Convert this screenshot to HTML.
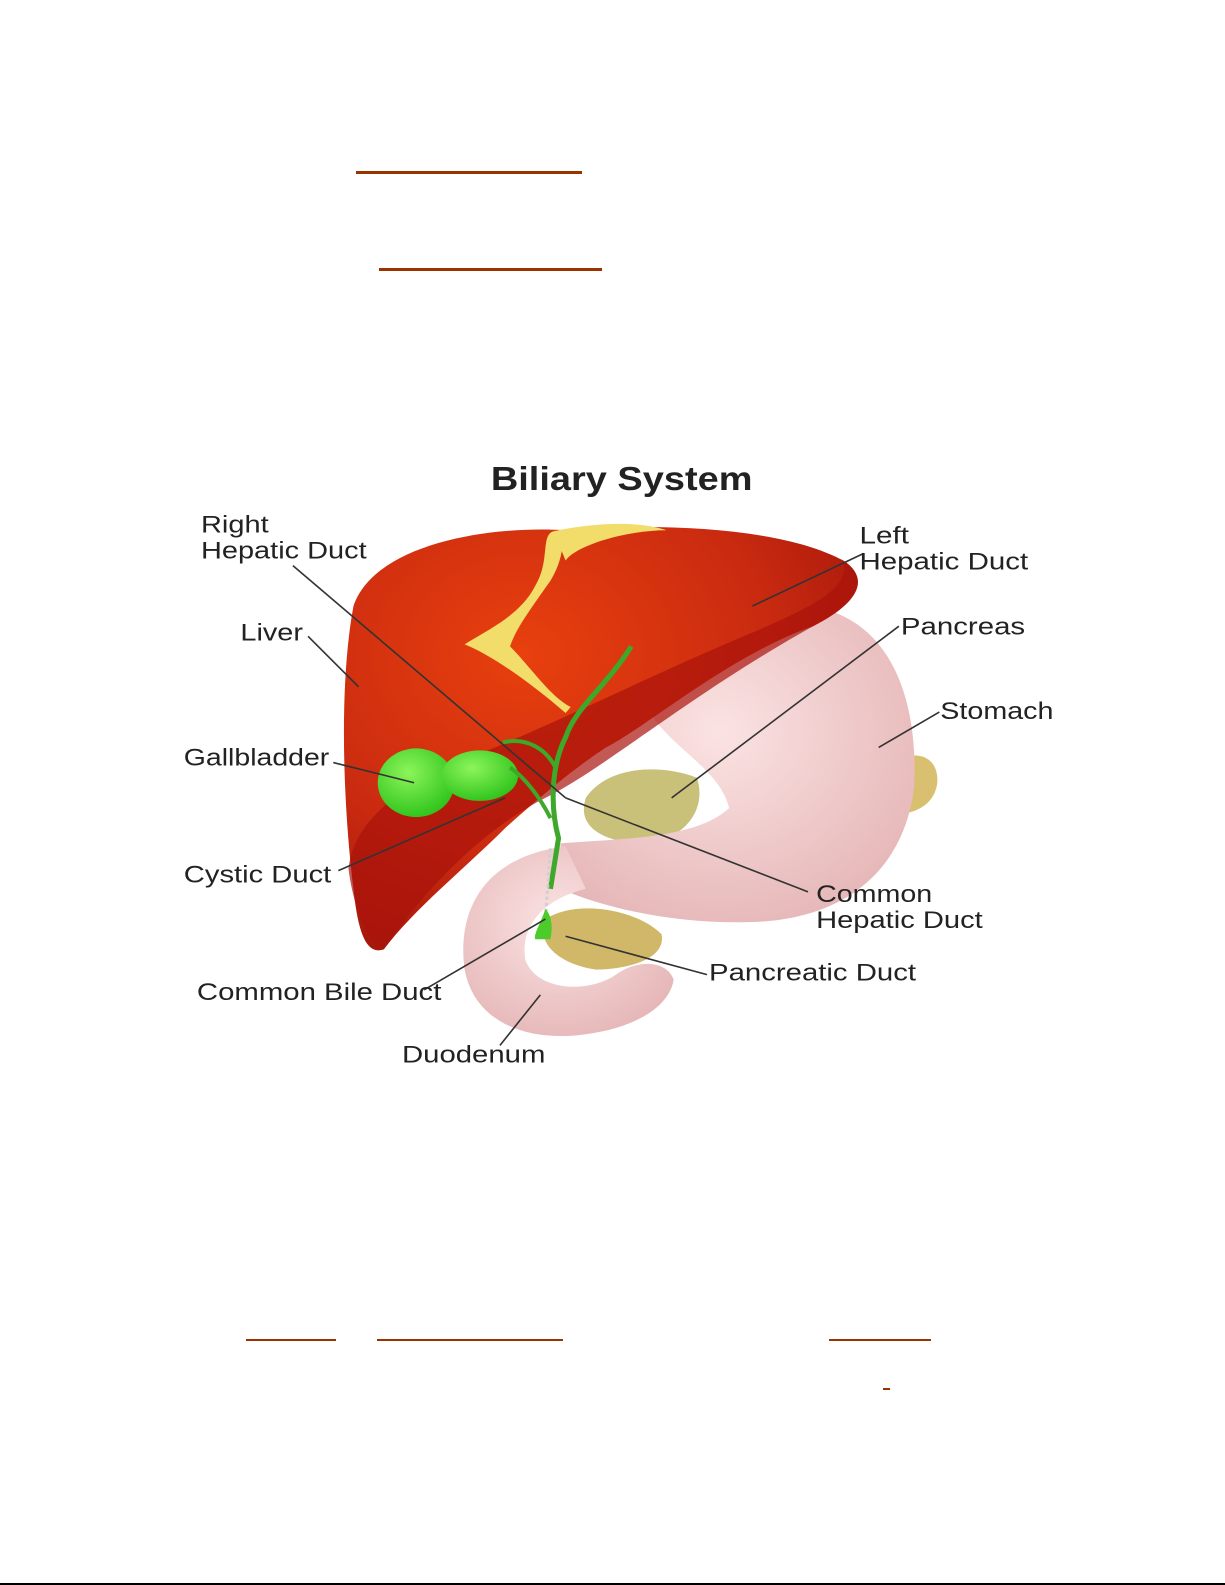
<!DOCTYPE html>
<html><head><meta charset="utf-8"><style>
html,body{margin:0;padding:0;background:#fff;width:1225px;height:1585px;overflow:hidden}
svg{display:block}
text{font-family:"Liberation Sans",Arial,sans-serif;fill:#222}
</style></head><body>
<svg width="1225" height="1585" viewBox="0 0 1225 1585" xmlns="http://www.w3.org/2000/svg">
<defs>
<radialGradient id="liv" cx="0.35" cy="0.3" r="0.8"><stop offset="0" stop-color="#e8400e"/><stop offset="0.6" stop-color="#c92a10"/><stop offset="1" stop-color="#a0140a"/></radialGradient>
<radialGradient id="st" cx="0.45" cy="0.4" r="0.7"><stop offset="0" stop-color="#fbe3e3"/><stop offset="1" stop-color="#e4b3b4"/></radialGradient>
<radialGradient id="gb" cx="0.4" cy="0.35" r="0.7"><stop offset="0" stop-color="#8cf55a"/><stop offset="1" stop-color="#2cc21a"/></radialGradient>
</defs>
<rect x="356" y="171" width="226" height="3" fill="#993300"/>
<rect x="379" y="268" width="223" height="3" fill="#993300"/>
<rect x="246" y="1339" width="90" height="2" fill="#993300"/>
<rect x="377" y="1339" width="186" height="2" fill="#993300"/>
<rect x="829" y="1339" width="102" height="2" fill="#993300"/>
<rect x="883" y="1388" width="7" height="2" fill="#993300"/>
<rect x="0" y="1583" width="1225" height="2" fill="#000"/>
<g transform="scale(1.01)">
<!-- pancreas behind -->
<path d="M580 790 C600 760 650 755 690 770 C700 800 680 830 640 835 C600 835 570 820 580 790 Z" fill="#c9c07a"/>
<path d="M880 760 C900 740 930 745 928 775 C925 800 900 810 870 805 Z" fill="#d8c070"/>
<!-- stomach -->
<path d="M640 700 C610 610 720 595 800 600 C880 610 910 690 905 780 C895 860 840 905 760 912 C680 918 600 900 555 880 L555 835 C620 830 690 830 722 800 C712 760 662 740 640 700 Z" fill="url(#st)"/>
<!-- duodenum -->
<path d="M560 838 C480 848 452 900 460 960 C470 1012 520 1030 572 1025 C622 1020 662 1000 667 970 C660 950 630 950 610 965 C580 985 530 980 520 950 C515 915 540 890 580 880 Z" fill="url(#st)"/>
<path d="M540 910 C570 890 630 900 655 925 C660 950 620 960 590 960 C555 955 530 935 540 910 Z" fill="#d1b868"/>
<!-- liver -->
<path d="M350 600 C370 540 480 520 560 525 C640 518 770 520 835 555 C865 575 845 600 805 620 C720 650 640 720 600 740 C570 760 545 780 500 820 C460 860 410 900 380 940 C365 945 355 930 350 880 C340 800 335 680 350 600 Z" fill="url(#liv)"/>
<path d="M380 940 C420 880 480 820 540 790 C600 760 680 690 805 620 C845 600 865 575 835 555 C845 590 780 610 690 650 C600 690 520 730 440 760 C380 790 350 820 345 860 C350 900 365 935 380 940 Z" fill="#a9120c" opacity="0.7"/>
<path d="M548 526 C560 525 560 550 545 575 C520 610 510 625 505 640 C525 660 545 690 565 700 L560 706 C530 680 490 650 460 638 C480 625 515 610 530 580 C545 555 535 530 548 526 Z M548 526 C600 515 640 518 660 525 C620 525 570 540 560 555 Z" fill="#f2dc6a"/>
<!-- ducts -->
<path d="M625 640 C600 680 570 700 560 730 C545 760 545 800 553 830 L545 880" stroke="#3da82a" stroke-width="5" fill="none"/>
<path d="M498 735 C520 730 540 740 550 760" stroke="#3da82a" stroke-width="4" fill="none"/>
<path d="M545 840 L540 910" stroke="#cfcfcf" stroke-width="3" stroke-dasharray="3 3" fill="none"/>
<path d="M540 900 C535 915 528 925 530 930 L545 930 C548 915 545 905 540 900 Z" fill="#4ccb2a"/>
<!-- gallbladder -->
<ellipse cx="412" cy="775" rx="38" ry="34" fill="url(#gb)"/>
<ellipse cx="475" cy="768" rx="38" ry="25" fill="url(#gb)"/>
<path d="M505 760 C520 770 535 790 545 810" stroke="#3da82a" stroke-width="4" fill="none"/>
<!-- leaders -->
<g stroke="#333" stroke-width="1.6" fill="none">
<line x1="290" y1="560" x2="560" y2="790"/>
<line x1="560" y1="790" x2="800" y2="883"/>
<line x1="855" y1="548" x2="745" y2="600"/>
<line x1="305" y1="630" x2="355" y2="680"/>
<line x1="890" y1="620" x2="665" y2="790"/>
<line x1="930" y1="705" x2="870" y2="740"/>
<line x1="330" y1="755" x2="410" y2="775"/>
<line x1="335" y1="862" x2="500" y2="790"/>
<line x1="420" y1="980" x2="540" y2="910"/>
<line x1="560" y1="927" x2="700" y2="965"/>
<line x1="495" y1="1035" x2="535" y2="985"/>
</g>
<text x="486" y="485" font-size="33" font-weight="bold" textLength="259" lengthAdjust="spacingAndGlyphs">Biliary System</text>
<g font-size="24">
<text x="199" y="527" textLength="67" lengthAdjust="spacingAndGlyphs">Right</text>
<text x="199" y="553" textLength="164" lengthAdjust="spacingAndGlyphs">Hepatic Duct</text>
<text x="851" y="538" textLength="49" lengthAdjust="spacingAndGlyphs">Left</text>
<text x="851" y="564" textLength="167" lengthAdjust="spacingAndGlyphs">Hepatic Duct</text>
<text x="238" y="634" textLength="62" lengthAdjust="spacingAndGlyphs">Liver</text>
<text x="892" y="628" textLength="123" lengthAdjust="spacingAndGlyphs">Pancreas</text>
<text x="931" y="712" textLength="112" lengthAdjust="spacingAndGlyphs">Stomach</text>
<text x="182" y="758" textLength="144" lengthAdjust="spacingAndGlyphs">Gallbladder</text>
<text x="182" y="874" textLength="146" lengthAdjust="spacingAndGlyphs">Cystic Duct</text>
<text x="808" y="893" textLength="115" lengthAdjust="spacingAndGlyphs">Common</text>
<text x="808" y="919" textLength="165" lengthAdjust="spacingAndGlyphs">Hepatic Duct</text>
<text x="702" y="971" textLength="205" lengthAdjust="spacingAndGlyphs">Pancreatic Duct</text>
<text x="195" y="990" textLength="242" lengthAdjust="spacingAndGlyphs">Common Bile Duct</text>
<text x="398" y="1052" textLength="142" lengthAdjust="spacingAndGlyphs">Duodenum</text>
</g>
</g>
</svg>
</body></html>
